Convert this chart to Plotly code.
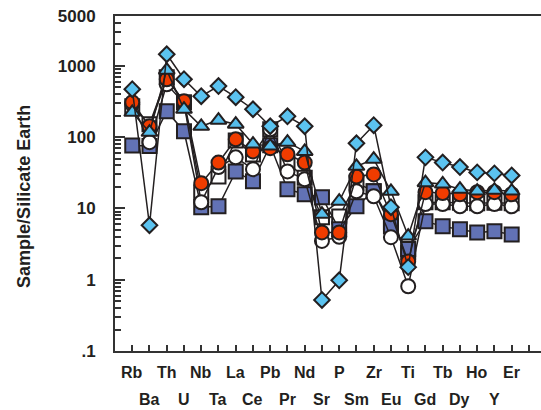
import plotly.graph_objects as go

elements = ["Rb","Ba","Th","U","Nb","Ta","La","Ce","Pb","Pr","Nd","Sr","P","Sm","Zr","Eu","Ti","Gd","Tb","Dy","Ho","Y","Er"]

white_squares = [271, 152, 692, 308, 16.9, 28, 90, 57, 129, 44, 27, 7.5, 7.7, 23, 17.4, 6.4, 2.4, 12.2, 12.2, 12.0, 11.8, 12.0, 11.8]
blue_squares  = [76, 75, 231, 121, 10.4, 10.7, 33, 24, 77, 18.6, 15.8, 14.4, 5.1, 10.7, 17.4, 5.6, 2.7, 6.6, 5.6, 5.1, 4.6, 4.8, 4.3]
white_circles = [290, 85, 552, 300, 12.2, 38, 52, 35.5, 129, 33, 25.7, 3.5, 4.0, 17.4, 14.8, 3.95, 0.81, 11.5, 11.5, 10.7, 10.7, 11.5, 10.7]
red_circles   = [308, 142, 649, 318, 22.6, 44, 93, 63, 70, 57.5, 44, 4.6, 4.6, 28, 30, 8.3, 1.8, 16.9, 16.4, 15.8, 16.9, 16.9, 15.8]
triangles     = [223, 117, 870, 246, 142, 173, 152, 80, 75, 85, 63, 8.3, 12.6, 39, 49, 17.4, 4.1, 23, 22, 18.6, 17.5, 18, 17.5]
diamonds      = [470, 5.8, 1455, 650, 375, 520, 363, 246, 142, 196, 142, 0.52, 0.98, 82, 147, 10.4, 1.5, 52, 44, 38, 32, 31, 29]

y_tickvals = [0.1, 1, 10, 100, 1000, 5000]
y_ticktext = [".1", "1", "10", "100", "1000", "5000"]
y_minor = [m * d for d in (0.1, 1, 10, 100) for m in range(2, 10)] + [2000, 3000, 4000]

xpos = list(range(1, len(elements) + 1))
outline = "#231F20"

series = [
    ("White squares", white_squares, "square", 14, "#FFFFFF"),
    ("Blue squares", blue_squares, "square", 14, "#6272B5"),
    ("White circles", white_circles, "circle", 14, "#FFFFFF"),
    ("Red circles", red_circles, "circle", 14, "#F03C00"),
    ("Triangles", triangles, "triangle-up", 14, "#55BDEB"),
    ("Diamonds", diamonds, "diamond", 12, "#5BC3F0"),
]

fig = go.Figure()
for name, vals, sym, size, col in series:
    fig.add_trace(go.Scatter(
        x=xpos, y=vals, mode="lines+markers", name=name,
        line=dict(color=outline, width=1.5),
        marker=dict(symbol=sym, size=size, color=col, line=dict(color=outline, width=2)),
        showlegend=False, cliponaxis=False,
    ))

font_family = "Liberation Sans, Arial, sans-serif"
annotations = []
for i, el in enumerate(elements):
    top = (i % 2 == 0)
    annotations.append(dict(
        x=i + 1, xref="x", y=-0.063 if top else -0.146, yref="paper",
        text="<b>%s</b>" % el, showarrow=False, xanchor="center", yanchor="middle",
        font=dict(family=font_family, size=16, color="#231F20"),
    ))
annotations.append(dict(
    x=-0.2136, xref="paper", y=0.46, yref="paper", text="<b>Sample/Silicate Earth</b>",
    textangle=-90, showarrow=False, xanchor="center", yanchor="middle",
    font=dict(family=font_family, size=18, color="#231F20"),
))

fig.update_layout(
    width=541, height=410,
    margin=dict(l=115, r=0, t=16, b=59),
    paper_bgcolor="white", plot_bgcolor="white",
    annotations=annotations,
    xaxis=dict(
        range=[0, 24.7], tickmode="array", tickvals=list(range(1, 25)),
        ticks="inside", ticklen=6, tickwidth=1.5, tickcolor="#333",
        showticklabels=False, showgrid=False, zeroline=False,
        showline=True, linecolor="#333", linewidth=2, mirror=True,
    ),
    yaxis=dict(
        type="log", range=[-1, 3.699],
        tickmode="array", tickvals=y_tickvals, ticktext=y_ticktext,
        ticks="inside", ticklen=10, tickwidth=1.5, tickcolor="#333",
        minor=dict(tickmode="array", tickvals=y_minor, ticks="inside", ticklen=6,
                   tickwidth=1.5, tickcolor="#333", showgrid=False),
        tickfont=dict(family=font_family, size=17, color="#231F20", weight="bold"),
        ticklabelstandoff=14,
        showgrid=False, zeroline=False,
        showline=True, linecolor="#333", linewidth=2,
    ),
)

fig.write_html("out.html")
